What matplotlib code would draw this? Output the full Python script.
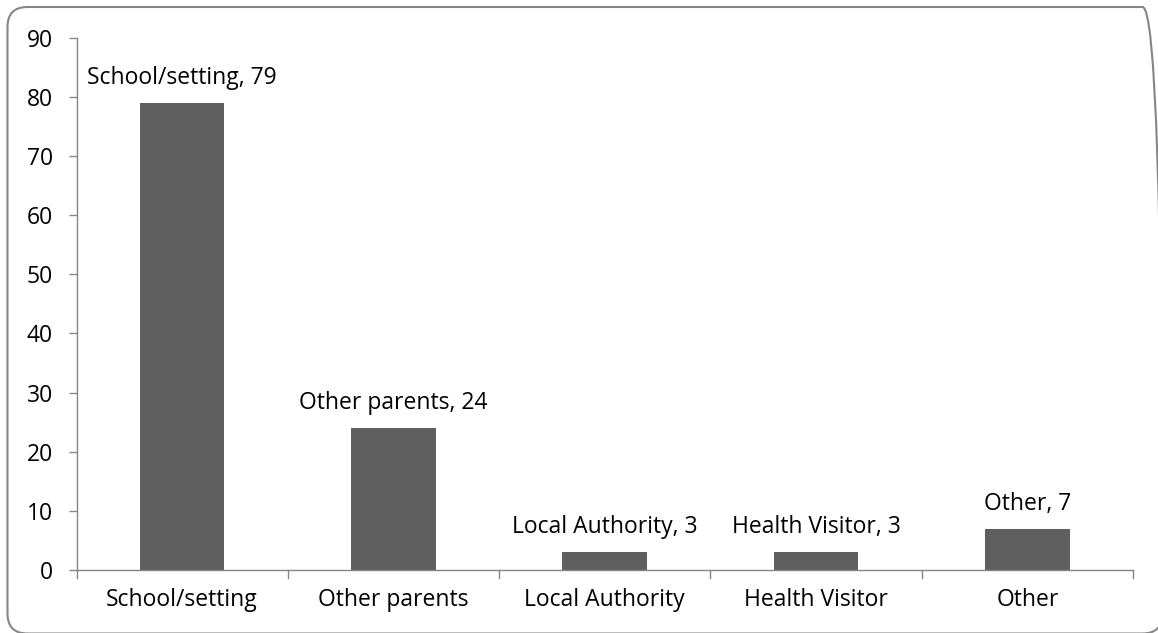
import matplotlib
matplotlib.use("Agg")
import matplotlib.pyplot as plt
from matplotlib.patches import FancyBboxPatch

categories = ["School/setting", "Other parents", "Local Authority", "Health Visitor", "Other"]
values = [79, 24, 3, 3, 7]
y_ticks = [0, 10, 20, 30, 40, 50, 60, 70, 80, 90]

plt.rcParams['font.family'] = ['Open Sans', 'DejaVu Sans']
FS = 16.5
GRAY = "#868686"

W, H = 1158, 633
fig = plt.figure(figsize=(W / 100, H / 100), dpi=100)

# rounded chart-area border (inch coordinates, 100 px per inch)
border = FancyBboxPatch((0.075, -0.005), 11.55, 6.265,
                        boxstyle="round,pad=0,rounding_size=0.2",
                        transform=fig.dpi_scale_trans, facecolor="none",
                        edgecolor=GRAY, linewidth=1.5, zorder=-1)
fig.patches.append(border)

ax = fig.add_axes([76.5 / W, 1 - 570 / H, (1133 - 76.5) / W, (570 - 37.6) / H])
ax.patch.set_alpha(0)

x = list(range(len(categories)))
ax.bar(x, values, width=0.4, color="#5f5f5f", zorder=2)

ax.set_xlim(-0.5, len(categories) - 0.5)
ax.set_ylim(0, 90)
ax.set_yticks(y_ticks)
ax.set_yticklabels([str(t) for t in y_ticks], fontsize=FS)
ax.set_xticks(x)
ax.set_xticklabels(categories, fontsize=FS)
ax.tick_params(axis="x", length=0, pad=13)
ax.tick_params(axis="y", length=6, width=1, color=GRAY, pad=11)

# category separator ticks below the x axis
for b in [i - 0.5 for i in range(len(categories) + 1)]:
    ax.plot([b, b], [0, -0.015], transform=ax.get_xaxis_transform(),
            color=GRAY, lw=1, clip_on=False)

for s in ["top", "right"]:
    ax.spines[s].set_visible(False)
for s in ["left", "bottom"]:
    ax.spines[s].set_color(GRAY)
    ax.spines[s].set_linewidth(1)

for xi, cat, v in zip(x, categories, values):
    ax.annotate(f"{cat}, {v}", xy=(xi, v), xytext=(0, 13.7),
                textcoords="offset points", ha="center", va="baseline",
                fontsize=FS)

fig.savefig("out.png", dpi=100)
